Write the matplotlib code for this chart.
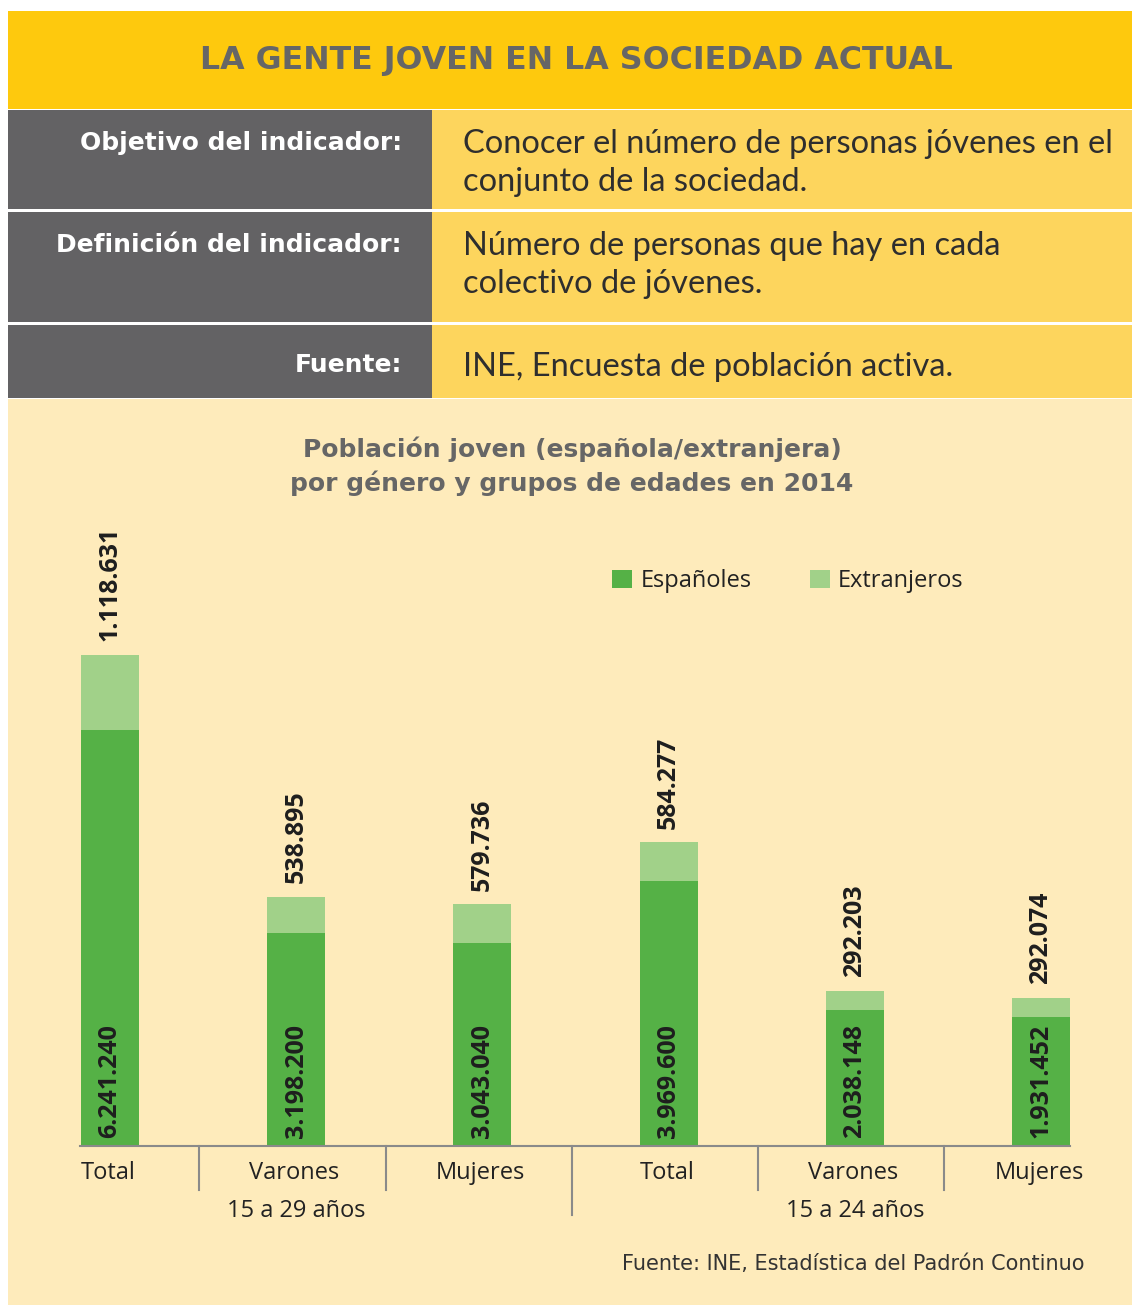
import matplotlib.pyplot as plt
from matplotlib.patches import Rectangle

categories = ['Total', 'Varones', 'Mujeres', 'Total', 'Varones', 'Mujeres']
age_groups = ['15 a 29 años', '15 a 24 años']
espanoles = [6241240, 3198200, 3043040, 3969600, 2038148, 1931452]
extranjeros = [1118631, 538895, 579736, 584277, 292203, 292074]

table_labels = ['Objetivo del indicador:', 'Definición del indicador:', 'Fuente:']
table_texts = ['Conocer el número de personas jóvenes en el\nconjunto de la sociedad.',
               'Número de personas que hay en cada\ncolectivo de jóvenes.',
               'INE, Encuesta de población activa.']

c_dark = '#55b146'
c_light = '#a1d189'
c_bg = '#feebbb'
c_gray = '#636264'

W, H = 1132, 1307
fig = plt.figure(figsize=(W / 100, H / 100), dpi=100)
fig.patch.set_facecolor('white')

# background layer in pixel coords
bg = fig.add_axes([0, 0, 1, 1])
bg.set_xlim(0, W)
bg.set_ylim(H, 0)
bg.axis('off')

bg.add_patch(Rectangle((8, 11), W - 8, 98, color='#fec90d', lw=0))
bg.text(576, 60, 'LA GENTE JOVEN EN LA SOCIEDAD ACTUAL', ha='center', va='center',
        fontsize=22.8, fontweight='bold', color='#666666', family='DejaVu Sans')

rows = [(110, 99), (212, 110), (325, 73)]
for (y0, h), lab, txt in zip(rows, table_labels, table_texts):
    bg.add_patch(Rectangle((8, y0), 424, h, color=c_gray, lw=0))
    bg.add_patch(Rectangle((432, y0), W - 432, h, color='#fdd55d', lw=0))
    two = '\n' in txt
    ty = y0 + 33 if two else y0 + 40
    bg.text(402, ty, lab, ha='right', va='center', fontsize=18,
            fontweight='bold', color='white', family='DejaVu Sans')
    if two:
        bg.text(463, ty - 14, txt, ha='left', va='top', fontsize=23.5,
                color='#2e2e2e', family='Lato', linespacing=1.34)
    else:
        bg.text(463, ty + 2, txt, ha='left', va='center', fontsize=23.5,
                color='#2e2e2e', family='Lato')

bg.add_patch(Rectangle((8, 399), W - 8, H - 399 - 2, color=c_bg, lw=0))

bg.text(572, 466, 'Población joven (española/extranjera)\npor género y grupos de edades en 2014',
        ha='center', va='center', fontsize=18, fontweight='bold', color='#666666',
        family='DejaVu Sans', linespacing=1.4)

bg.text(1085, 1264, 'Fuente: INE, Estadística del Padrón Continuo', ha='right', va='center',
        fontsize=15, color='#333333', family='DejaVu Sans')

# chart axes: baseline at y=1146 px, x from 80 to 1070 px
top_px = 546
hpx = 1146 - top_px
ax = fig.add_axes([80 / W, 1 - 1146 / H, (1070 - 80) / W, hpx / H])
ax.set_facecolor('none')
x = list(range(len(categories)))
ax.bar(x, espanoles, width=0.3115, color=c_dark, label='Españoles', zorder=2)
ax.bar(x, extranjeros, width=0.3115, bottom=espanoles, color=c_light,
       label='Extranjeros', zorder=2)
ax.set_xlim(-0.161, 5.156)
ax.set_ylim(0, hpx * 15000)
for s in ['top', 'right', 'left']:
    ax.spines[s].set_visible(False)
ax.spines['bottom'].set_color('#8a8a8a')
ax.spines['bottom'].set_linewidth(1.5)
ax.set_xticks([])
ax.set_yticks([])


def fmt(v):
    return f'{v:,}'.replace(',', '.')


for i in x:
    ax.annotate(fmt(espanoles[i]), (i, 0), xytext=(0, 6), textcoords='offset points',
                rotation=90, ha='center', va='bottom', fontsize=18,
                fontweight='bold', color='#1e1e1e', family='Open Sans', zorder=3)
    ax.annotate(fmt(extranjeros[i]), (i, espanoles[i] + extranjeros[i]), xytext=(0, 10),
                textcoords='offset points', rotation=90, ha='center', va='bottom',
                fontsize=18, fontweight='bold', color='#1e1e1e', family='Open Sans')

tr = ax.get_xaxis_transform()
for i, cat in enumerate(categories):
    ax.text(i - 0.01, -27 / hpx, cat, transform=tr, ha='center', va='center',
            fontsize=17, color='#222222', family='Open Sans')
for i in range(5):
    low = -69 / hpx if i == 2 else -44 / hpx
    ax.plot([i + 0.48, i + 0.48], [0, low], transform=tr, color='#8a8a8a',
            lw=1.5, clip_on=False)
for g, lab in zip([1, 4], age_groups):
    ax.text(g, -65 / hpx, lab, transform=tr, ha='center', va='center',
            fontsize=17, color='#222222', family='Open Sans')

ax.legend(loc='upper left', bbox_to_anchor=(511 / 990, (1146 - 548) / hpx), ncol=2,
          frameon=False, prop={'family': 'Open Sans', 'size': 17},
          handlelength=0.85, handleheight=0.85, handletextpad=0.35, columnspacing=2.45,
          labelcolor='#222222')

fig.savefig('out.png', dpi=100, facecolor=fig.get_facecolor())
